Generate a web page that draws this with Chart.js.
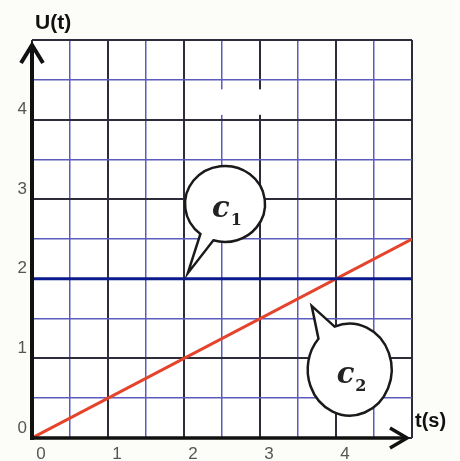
<!DOCTYPE html>
<html>
<head>
<meta charset="utf-8">
<script src="https://cdn.jsdelivr.net/npm/chart.js@4/dist/chart.umd.min.js"></script>
<style>
  body { margin: 0; background: #fcfcf8; }
  #wrap { width: 460px; height: 461px; }
</style>
</head>
<body>
<div id="wrap"><canvas id="voltageChart"></canvas></div>
<script>
// time values (s) and the two curves
const timeValues = [0, 5];
const c1Values = [2, 2];
const c2Values = [0, 2.5];
const xTickLabels = ['0', '1', '2', '3', '4'];
const yTickLabels = ['0', '1', '2', '3', '4'];

// speech bubbles, in data units; gapFrom/gapTo = where the tail leaves the circle (deg)
const bubbles = [
  { name: 'c', sub: '1', t: 2.54, u: 2.94, rx: 40, ry: 38, tipT: 2.05, tipU: 2.07, gapFrom: 107, gapTo: 128 },
  { name: 'c', sub: '2', t: 4.18, u: 0.86, rx: 42, ry: 46, tipT: 3.68, tipU: 1.66, gapFrom: 222, gapTo: 249 }
];

const ctx = document.getElementById('voltageChart').getContext('2d');

function gridColor(c) {
  return Number.isInteger(c.tick.value) ? '#2c2c3a' : '#5c5cbc';
}
function gridWidth(c) {
  return Number.isInteger(c.tick.value) ? 2 : 1.5;
}
function tickText(list) {
  return (v) => Number.isInteger(v) && list.includes(String(v)) ? String(v) : '';
}

const paperPlugin = {
  id: 'paper',
  beforeDraw(chart) {
    const a = chart.chartArea;
    const c = chart.ctx;
    c.save();
    c.fillStyle = '#ffffff';
    c.fillRect(a.left, a.top, a.right - a.left, a.bottom - a.top);
    c.restore();
  },
  afterDatasetsDraw(chart) {
    const c = chart.ctx;
    const xs = chart.scales.x, ys = chart.scales.y;
    const a = chart.chartArea;
    const x0 = xs.getPixelForValue(0), y0 = ys.getPixelForValue(0);

    // erased patch near the top
    c.save();
    c.fillStyle = '#ffffff';
    c.fillRect(xs.getPixelForValue(2.02), ys.getPixelForValue(4.38),
      xs.getPixelForValue(3.08) - xs.getPixelForValue(2.02), ys.getPixelForValue(4.06) - ys.getPixelForValue(4.38));

    // axes with open arrow heads
    c.strokeStyle = '#111';
    c.lineCap = 'butt';
    c.lineJoin = 'miter';
    c.lineWidth = 4;
    c.beginPath();
    c.moveTo(x0, y0 + 2);
    c.lineTo(x0, a.top + 5);
    c.stroke();
    c.beginPath();
    c.moveTo(x0 - 11, a.top + 23);
    c.lineTo(x0, a.top + 5);
    c.lineTo(x0 + 11, a.top + 23);
    c.stroke();
    c.lineWidth = 3.5;
    c.beginPath();
    c.moveTo(x0, y0);
    c.lineTo(a.right - 6, y0);
    c.stroke();
    c.beginPath();
    c.moveTo(a.right - 22, y0 - 10);
    c.lineTo(a.right - 5, y0);
    c.lineTo(a.right - 22, y0 + 10);
    c.stroke();

    // bubbles
    bubbles.forEach(b => {
      const cx = xs.getPixelForValue(b.t), cy = ys.getPixelForValue(b.u);
      const tx = xs.getPixelForValue(b.tipT), ty = ys.getPixelForValue(b.tipU);
      const start = b.gapTo * Math.PI / 180;
      const end = (b.gapFrom + 360) * Math.PI / 180;
      c.beginPath();
      c.ellipse(cx, cy, b.rx, b.ry, 0, start, end, false);
      c.lineTo(tx, ty);
      c.closePath();
      c.fillStyle = '#ffffff';
      c.fill();
      c.strokeStyle = '#1a1a1a';
      c.lineWidth = 2.5;
      c.stroke();

      c.fillStyle = '#222';
      c.textBaseline = 'alphabetic';
      c.textAlign = 'left';
      c.font = 'italic bold 29px "DejaVu Serif"';
      const w = c.measureText(b.name).width;
      c.fillText(b.name, cx - 13, cy + 13);
      c.font = 'bold 16px "DejaVu Serif"';
      c.fillText(b.sub, cx - 13 + w + 1, cy + 21);
    });

    // axis names
    c.fillStyle = '#111';
    c.font = 'bold 21px "Liberation Sans"';
    c.textBaseline = 'middle';
    c.fillText('U(t)', x0 + 3, a.top - 17);
    c.font = 'bold 20px "Liberation Sans"';
    c.fillText('t(s)', a.right + 3, y0 - 17);
    c.restore();
  }
};

new Chart(ctx, {
  type: 'line',
  data: {
    datasets: [
      {
        label: 'c1',
        data: timeValues.map((t, i) => ({ x: t, y: c1Values[i] })),
        borderColor: '#0b1a8c',
        borderWidth: 3,
        pointRadius: 0,
        fill: false
      },
      {
        label: 'c2',
        data: timeValues.map((t, i) => ({ x: t, y: c2Values[i] })),
        borderColor: '#e5432c',
        borderWidth: 3,
        pointRadius: 0,
        fill: false
      }
    ]
  },
  options: {
    responsive: true,
    maintainAspectRatio: false,
    animation: false,
    layout: { padding: { top: 40, right: 48, left: 0, bottom: 0 } },
    plugins: { legend: { display: false }, tooltip: { enabled: false } },
    scales: {
      x: {
        type: 'linear',
        min: 0,
        max: 5,
        afterFit(scale) { scale.height = 23; },
        border: { display: false },
        grid: { color: gridColor, lineWidth: gridWidth, drawTicks: false },
        ticks: {
          stepSize: 0.5,
          autoSkip: false,
          maxRotation: 0,
          padding: 6,
          labelOffset: 9,
          color: '#555',
          font: { family: 'Liberation Sans', size: 17 },
          callback: tickText(xTickLabels)
        }
      },
      y: {
        min: 0,
        max: 5,
        afterFit(scale) { scale.width = 32; },
        border: { display: false },
        grid: { color: gridColor, lineWidth: gridWidth, drawTicks: false },
        ticks: {
          stepSize: 0.5,
          autoSkip: false,
          padding: 5,
          labelOffset: -10,
          color: '#555',
          font: { family: 'Liberation Sans', size: 17 },
          callback: tickText(yTickLabels)
        }
      }
    }
  },
  plugins: [paperPlugin]
});
</script>
</body>
</html>
